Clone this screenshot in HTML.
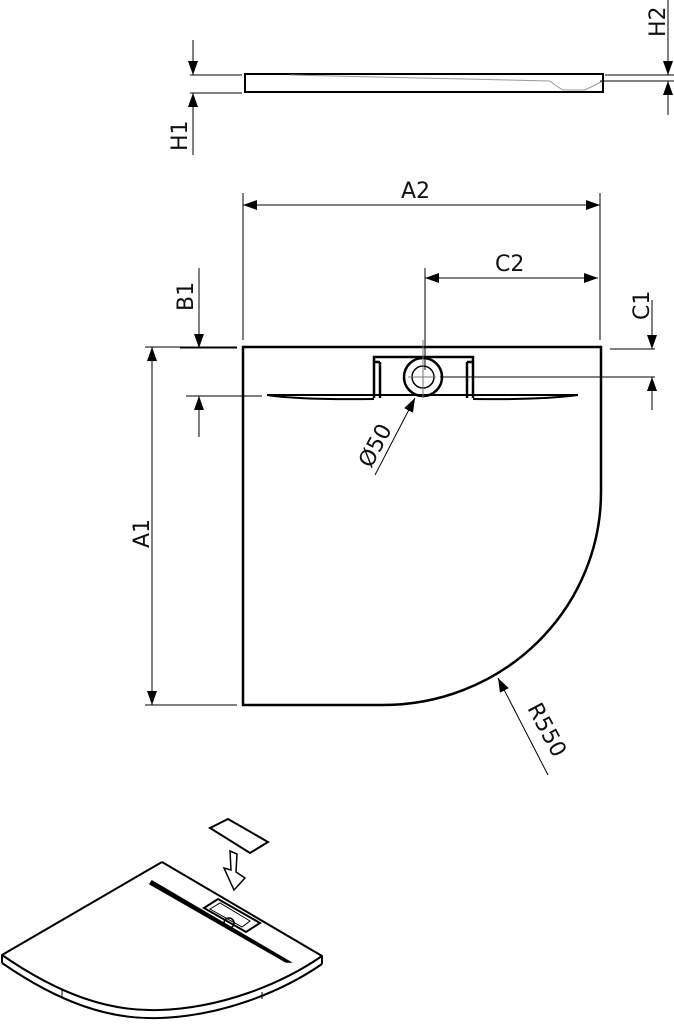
<!DOCTYPE html>
<html><head><meta charset="utf-8"><style>body{margin:0;background:#fff}svg{display:block}text{font-family:"DejaVu Sans","Liberation Sans",sans-serif;font-size:22px;fill:#111}</style></head>
<body>
<svg width="674" height="1024" viewBox="0 0 674 1024" xmlns="http://www.w3.org/2000/svg">
<defs><marker id="a" markerWidth="14" markerHeight="10" refX="14" refY="5" orient="auto" markerUnits="userSpaceOnUse" viewBox="0 0 14 10"><path d="M0,0 L14,5 L0,10z" fill="#000"/></marker></defs>
<g stroke="#000" fill="none">
<rect x="245" y="74" width="358" height="18" stroke-width="2"/>
<path d="M290,75 L550,81 M550,81 L555,85 L563,90 L585,90 L595,85 L603,81" stroke="#999" stroke-width="1"/>
<path d="M190,75 H242 M190,93 H242 M605,75 H674 M600,81 H674" stroke-width="1"/>
<path d="M193,40 V75" marker-end="url(#a)" stroke-width="1"/>
<path d="M193,155 V93" marker-end="url(#a)" stroke-width="1"/>
<path d="M668,0 V75" marker-end="url(#a)" stroke-width="1"/>
<path d="M668,115 V81" marker-end="url(#a)" stroke-width="1"/>
<path d="M243,347 H601 V492 A218,213 0 0 1 383,705 H243 Z" stroke-width="2.5"/>
<path d="M374,398 V357 H473 V398 M380,398 V362 M467,398 V362 M380,362 H374 M467,362 H473" stroke-width="2.5"/>
<circle cx="423" cy="377" r="19" stroke-width="2.5"/>
<circle cx="423" cy="377" r="11" stroke-width="1.5"/>
<path d="M267,395 Q300,400 374,399 M473,399 Q540,400 578,395 L267,395" stroke-width="2"/>
<path d="M423,340 V398 M408,377 H436" stroke="#777" stroke-width="1"/>
<path d="M243,193 V340 M600,193 V340 M425,268 V370" stroke-width="1"/>
<path d="M330,205 H243" marker-end="url(#a)" stroke-width="1"/>
<path d="M330,205 H600" marker-end="url(#a)" stroke-width="1"/>
<path d="M512,278 H425" marker-end="url(#a)" stroke-width="1"/>
<path d="M512,278 H598" marker-end="url(#a)" stroke-width="1"/>
<path d="M180,348 H237 M186,396 H262 M145,347 H237 M145,705 H237 M610,349 H655 M440,377 H655" stroke-width="1"/>
<path d="M199,268 V348" marker-end="url(#a)" stroke-width="1"/>
<path d="M199,437 V396" marker-end="url(#a)" stroke-width="1"/>
<path d="M152,520 V347" marker-end="url(#a)" stroke-width="1"/>
<path d="M152,520 V705" marker-end="url(#a)" stroke-width="1"/>
<path d="M652,300 V349" marker-end="url(#a)" stroke-width="1"/>
<path d="M652,410 V377" marker-end="url(#a)" stroke-width="1"/>
<path d="M375,475 L415,398" marker-end="url(#a)" stroke-width="1"/>
<path d="M548,775 L498,678" marker-end="url(#a)" stroke-width="1"/>
<path d="M162,862 L322,956 L322,964 M162,862 L2,955 L2,963" stroke-width="2"/>
<path d="M2,955 C60,995 110,1012 160,1010 C220,1008 280,985 322,956 M2,963 C60,1003 110,1020 160,1018 C220,1016 280,993 322,964" stroke-width="2"/>
<path d="M62,990 V997 M262,992 V999" stroke-width="1"/>
<path d="M152,881 L290,962 L286,962 L150,884 Z" fill="#000" stroke-width="1.5"/>
<path d="M204,908 L218,899 L260,923 L246,932 Z" stroke-width="2"/>
<path d="M210,909 L220,903 L250,921 L242,927 Z" stroke-width="1"/>
<circle cx="229" cy="923" r="5" stroke-width="1.5"/>
<path d="M210,828 L228,819 L268,842 L250,853 Z" stroke-width="2"/>
<path d="M230,851 L237,854 L236,872 L245,878 L234,890 L224,868 L231,870 Z" stroke-width="1.5"/>
</g>
<text transform="translate(187,151) rotate(-90)">H1</text>
<text transform="translate(665,37) rotate(-90)">H2</text>
<text x="401" y="198">A2</text>
<text x="495" y="271">C2</text>
<text transform="translate(649,320) rotate(-90)">C1</text>
<text transform="translate(193,311) rotate(-90)">B1</text>
<text transform="translate(149,548) rotate(-90)">A1</text>
<text transform="translate(371,469) rotate(-62)">Ø50</text>
<text transform="translate(527,708) rotate(62)">R550</text>
</svg>
</body></html>
